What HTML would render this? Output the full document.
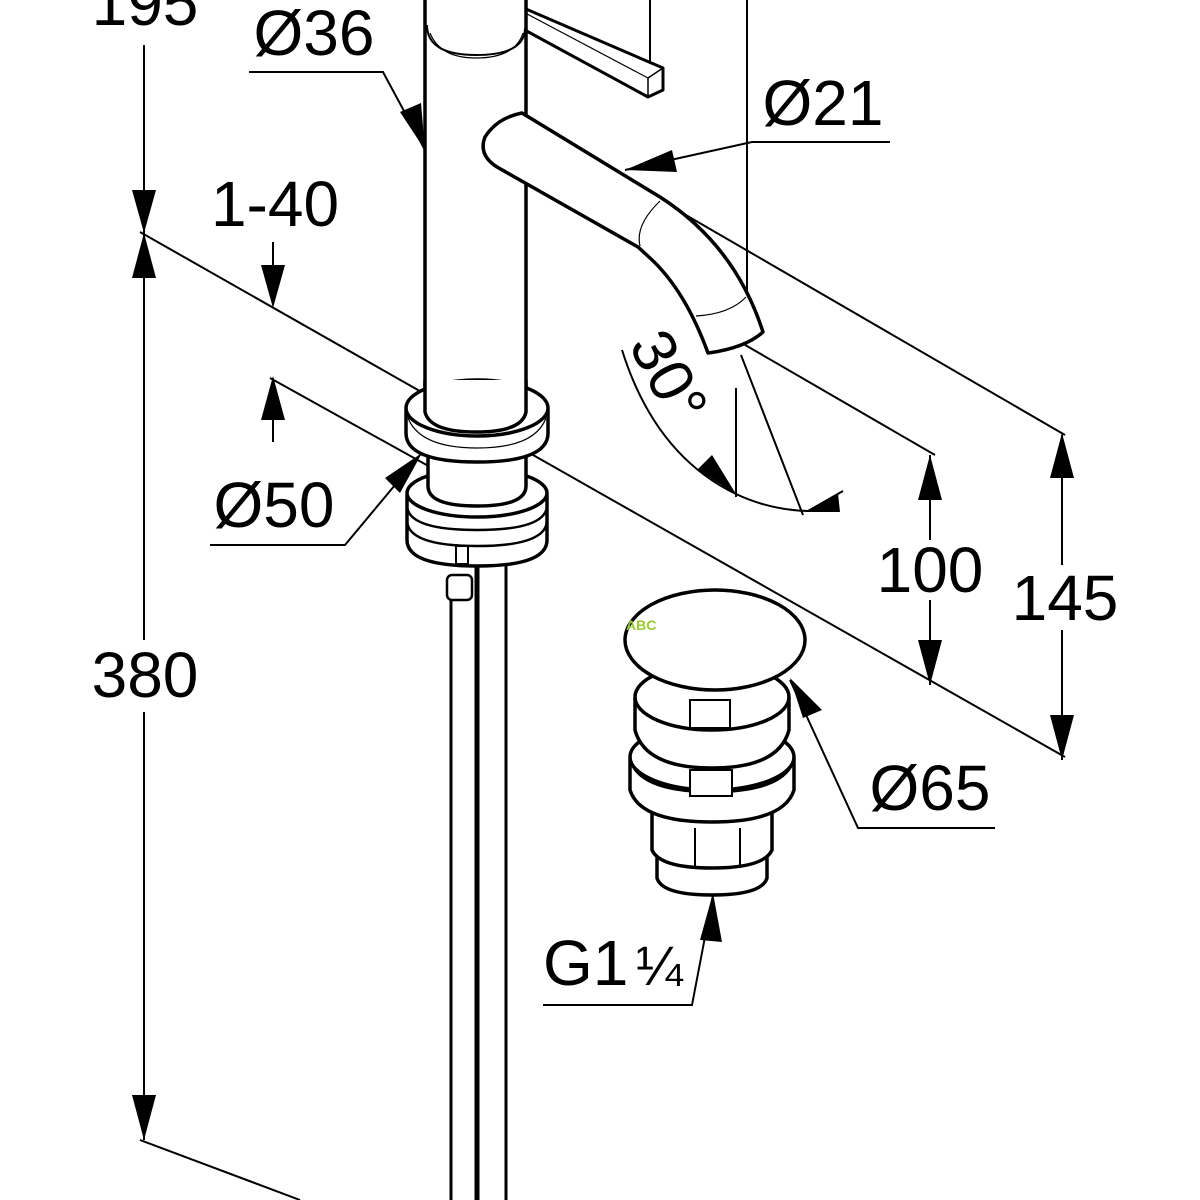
<!DOCTYPE html>
<html><head><meta charset="utf-8"><style>
html,body{margin:0;padding:0;background:#fff;width:1200px;height:1200px;overflow:hidden}
svg{display:block}
text{font-family:"Liberation Sans",sans-serif;font-size:64px;fill:#000}
</style></head><body>
<svg width="1200" height="1200" viewBox="0 0 1200 1200" xmlns="http://www.w3.org/2000/svg">
<g stroke="#000" fill="none" stroke-width="2">
<line x1="144" y1="45" x2="144" y2="232"/>
<line x1="144" y1="232" x2="144" y2="640"/>
<line x1="144" y1="712" x2="144" y2="1140"/>
<line x1="140" y1="232" x2="425" y2="394"/>
<line x1="526" y1="451" x2="1065" y2="757"/>
<line x1="270" y1="378" x2="477" y2="493"/>
<line x1="140" y1="1140" x2="300" y2="1200"/>
<line x1="273" y1="242" x2="273" y2="268"/>
<line x1="273" y1="378" x2="273" y2="442"/>
<polyline points="249,72 383,72 425,150"/>
<polyline points="890,142 752,142 625,170"/>
<line x1="747" y1="0" x2="747" y2="340"/>
<line x1="650" y1="0" x2="650" y2="78"/>
<line x1="660" y1="200" x2="1065" y2="435"/>
<line x1="1062" y1="435" x2="1062" y2="565"/>
<line x1="1062" y1="630" x2="1062" y2="760"/>
<line x1="740" y1="342" x2="935" y2="455"/>
<line x1="930" y1="455" x2="930" y2="540"/>
<line x1="930" y1="600" x2="930" y2="685"/>
<path d="M622,350 Q655,455 736,494 Q770,510 808,511"/>
<line x1="736" y1="388" x2="736" y2="497"/>
<line x1="741" y1="355" x2="803" y2="515"/>
<line x1="808" y1="511" x2="843" y2="491"/>
<polyline points="210,545 345,545 420,455"/>
<polyline points="995,828 858,828 790,680"/>
<polyline points="543,1005 692,1005 713,895"/>
</g>
<g fill="#000">
<polygon points="144,233 132,190 156,190"/>
<polygon points="144,233 132,278 156,278"/>
<polygon points="144,1140 132,1095 156,1095"/>
<polygon points="273,308 261,265 285,265"/>
<polygon points="273,376 261,420 285,420"/>
<polygon points="425,150 400,112 421,103"/>
<polygon points="625,170 672,150 677,172"/>
<polygon points="1062,433 1050,478 1074,478"/>
<polygon points="1062,760 1050,715 1074,715"/>
<polygon points="930,455 918,500 942,500"/>
<polygon points="930,685 918,640 942,640"/>
<polygon points="736,494 697,470 712,455"/>
<polygon points="805,512 838,493 840,512"/>
<polygon points="422,453 400,493 385,478"/>
<polygon points="790,678 822,710 803,718"/>
<polygon points="713,893 700,940 722,942"/>
</g>
<g stroke="#000" fill="#fff" stroke-width="3.5" stroke-linejoin="round">
<path d="M505,0 L663,68 L663,90 L648,97 L510,22 Z" stroke-width="3"/>
<line x1="648" y1="78" x2="648" y2="97" stroke-width="1.5"/>
<line x1="648" y1="78" x2="663" y2="68" stroke-width="1.5"/>
<line x1="512" y1="6" x2="648" y2="78" stroke-width="1.2"/>
<rect x="425" y="-10" width="101" height="430" stroke="none"/>
<line x1="425" y1="0" x2="425" y2="420"/>
<line x1="526" y1="0" x2="526" y2="420"/>
<path d="M427,25 Q427,55 476,55 Q525,55 525,28" fill="none" stroke-width="2"/>
<path d="M430,33 Q440,58 476,58 Q515,58 523,33" fill="none" stroke-width="1.2"/>
<path d="M522,113 L660,197 Q735,245 763,332 Q745,348 708,353 Q685,290 650,258 L638,247 L497,167 Q478,155 485,137 Q497,118 522,113 Z"/>
<path d="M660,201 Q635,225 640,246" fill="none" stroke-width="1.2"/>
<path d="M696,316 Q730,314 746,297" fill="none" stroke-width="1.2"/>
<line x1="451" y1="590" x2="451" y2="1200" stroke-width="3"/>
<line x1="477" y1="560" x2="477" y2="1200" stroke-width="5"/>
<line x1="506" y1="560" x2="506" y2="1200" stroke-width="3"/>
<rect x="447" y="575" width="25" height="25" rx="5" stroke-width="2.5"/>
<path d="M407,495 L407,540 Q407,566 477,566 Q547,566 547,540 L547,495 Z"/>
<path d="M407,520 Q407,546 477,546 Q547,546 547,520" fill="none" stroke-width="2.5"/>
<path d="M407,505 Q407,530 477,530 Q547,530 547,505" fill="none" stroke-width="2.5"/>
<ellipse cx="477" cy="493" rx="70" ry="24"/>
<rect x="456" y="546" width="12" height="18" stroke-width="2"/>
<path d="M428,440 L428,486 Q428,506 477,506 Q526,506 526,486 L526,440 Z"/>
<path d="M406,410 L406,433 Q406,462 477,462 Q548,462 548,433 L548,410 Z"/>
<ellipse cx="477" cy="408" rx="71" ry="28"/>
<path d="M408,418 Q420,448 477,448 Q535,448 546,418" fill="none" stroke-width="1.2"/>
<path d="M425,380 L425,412 Q430,432 476,432 Q522,432 526,412 L526,380 Z" stroke="none"/>
<path d="M425,380 L425,412 Q430,432 476,432 Q522,432 526,412 L526,380" fill="none"/>
</g>
<g stroke="#000" fill="#fff" stroke-width="3.5">
<path d="M657,845 L657,878 Q662,895 712,895 Q762,895 767,878 L767,845 Z"/>
<path d="M652,808 L652,850 Q660,868 712,868 Q764,868 772,850 L772,808 Z"/>
<path d="M630,760 L630,790 Q640,822 712,822 Q784,822 794,790 L794,760 Z"/>
<path d="M630,760 Q640,792 712,792 Q784,792 794,760" fill="none" stroke-width="2.5"/>
<ellipse cx="712" cy="757" rx="82" ry="33"/>
<path d="M635,700 L635,730 Q645,768 712,768 Q779,768 789,730 L789,700 Z"/>
<ellipse cx="712" cy="697" rx="77" ry="33"/>
<rect x="690" y="700" width="40" height="28" stroke-width="2"/>
<rect x="690" y="770" width="42" height="26" stroke-width="2"/>
<line x1="695" y1="828" x2="695" y2="868" stroke-width="2"/>
<line x1="740" y1="828" x2="740" y2="868" stroke-width="2"/>
<ellipse cx="715" cy="640" rx="90" ry="50"/>
</g>
<text x="145" y="697" text-anchor="middle">380</text>
<text x="145" y="25" text-anchor="middle">195</text>
<text x="314" y="55" text-anchor="middle">Ø36</text>
<text x="275" y="226" text-anchor="middle">1-40</text>
<text x="823" y="125" text-anchor="middle">Ø21</text>
<text x="274" y="527" text-anchor="middle">Ø50</text>
<text x="930" y="592" text-anchor="middle">100</text>
<text x="1065" y="620" text-anchor="middle">145</text>
<text x="930" y="810" text-anchor="middle">Ø65</text>
<text x="543" y="985">G1</text>
<text x="636" y="985" style="font-size:56px">¼</text>
<text transform="translate(628,345) rotate(62)" style="font-size:62px">30°</text>
<text x="626" y="630" style="font-size:14px;font-weight:bold;fill:#9c3">ABC</text>
</svg>
</body></html>
